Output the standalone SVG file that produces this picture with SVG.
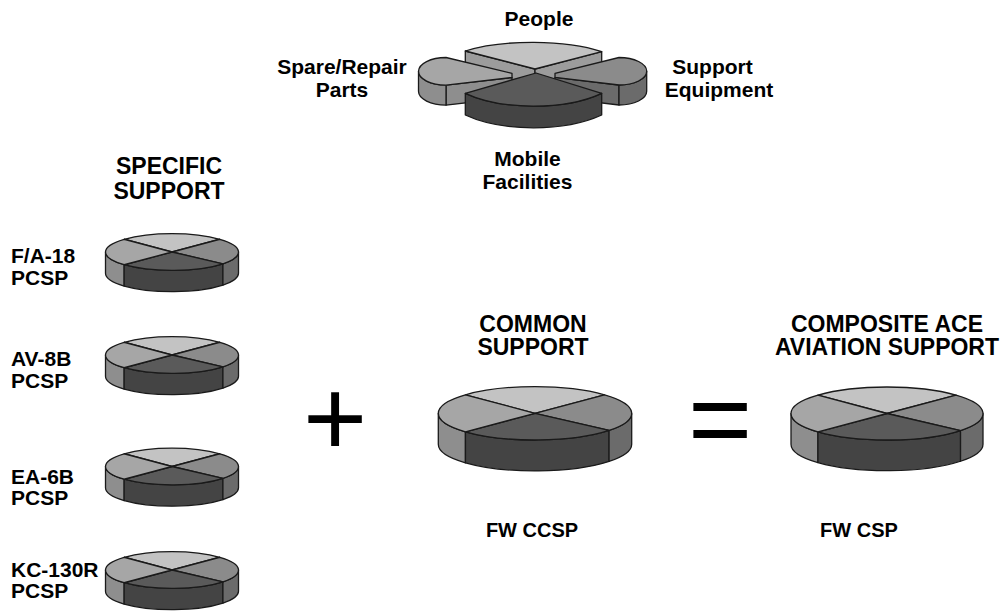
<svg xmlns="http://www.w3.org/2000/svg" xmlns:xlink="http://www.w3.org/1999/xlink" width="1006" height="611" viewBox="0 0 1006 611">
<style>
  .t { font-family: "Liberation Sans", Arial, sans-serif; font-weight: bold; fill: #000; }
  .lbl { font-size: 21px; }
  .hd { font-size: 23px; text-anchor: middle; }
  .ft { font-size: 20px; text-anchor: middle; }
  .mid { text-anchor: middle; }
  .s { stroke: #1a1a1a; stroke-width: 1.3; stroke-linejoin: round; vector-effect: non-scaling-stroke; }
  .c1 { fill: #c3c3c3; }
  .c2 { fill: #a6a6a6; }
  .c3 { fill: #8b8b8b; }
  .c4 { fill: #5a5a5a; }
  .c5 { fill: #444444; }
  .c6 { fill: #8e8e8e; }
  .c7 { fill: #6b6b6b; }
  .c8 { fill: #9c9c9c; }
  .op { font-family: "Liberation Sans", Arial, sans-serif; font-weight: normal; font-size: 110px; text-anchor: middle; fill: #000; }
</style>
<defs>
  <g id="pie">
    <path class="s c6" d="M-100,0 A100,27.6 0 0 0 -71.93,19.17 L-71.93,51.17 A100,27.6 0 0 1 -100,32 Z"/>
    <path class="s c5" d="M-71.93,19.17 A100,27.6 0 0 0 76.6,17.74 L76.6,49.74 A100,27.6 0 0 1 -71.93,51.17 Z"/>
    <path class="s c7" d="M76.6,17.74 A100,27.6 0 0 0 100,0 L100,32 A100,27.6 0 0 1 76.6,49.74 Z"/>
    <path class="s c1" d="M0,0 L-71.93,-19.17 A100,27.6 0 0 1 71.93,-19.17 Z"/>
    <path class="s c3" d="M0,0 L71.93,-19.17 A100,27.6 0 0 1 76.6,17.74 Z"/>
    <path class="s c4" d="M0,0 L76.6,17.74 A100,27.6 0 0 1 -71.93,19.17 Z"/>
    <path class="s c2" d="M0,0 L-71.93,19.17 A100,27.6 0 0 1 -71.93,-19.17 Z"/>
  </g>
</defs>
<rect width="1006" height="611" fill="#ffffff"/>

<g id="connectors"></g>

<!-- Exploded pie breakdown -->
<g id="breakdown">
  <g id="wedge-people">
    <path class="s c8" d="M465.3,51 L535,69 L535,89 L465.3,71 Z"/>
    <path class="s c8" d="M601.7,51.7 L535,69 L535,89 L601.7,71.7 Z"/>
    <path class="s c1" d="M535,69 L465.3,51 A93,28 0 0 1 601.7,51.7 Z"/>
    <text class="t lbl mid" x="539" y="26">People</text>
  </g>
  <g id="wedge-spare">
    <path class="s c6" d="M446,85.2 L512,77.5 L512,97.5 L446,105.2 Z"/>
    <path class="s c6" d="M418.5,71.35 A27.5,13.85 0 0 0 446,85.2 L446,105.2 A27.5,13.85 0 0 1 418.5,91.35 Z"/>
    <path class="s c2" d="M446,57.5 L512,73.3 L512,77.5 L446,85.2 A27.5,13.85 0 0 1 446,57.5 Z"/>
    <text class="t lbl mid" x="342" y="74">Spare/Repair</text>
    <text class="t lbl mid" x="342" y="97">Parts</text>
  </g>
  <g id="wedge-support">
    <path class="s c7" d="M555,77.3 L619,85 L619,105 L555,97.3 Z"/>
    <path class="s c7" d="M646.7,71.25 A27.7,13.75 0 0 1 619,85 L619,105 A27.7,13.75 0 0 0 646.7,91.25 Z"/>
    <path class="s c3" d="M555,73.3 L619,57.5 A27.7,13.75 0 0 1 619,85 L555,77.3 Z"/>
    <text class="t lbl mid" x="712.5" y="74">Support</text>
    <text class="t lbl mid" x="719" y="97">Equipment</text>
  </g>
  <g id="wedge-mobile">
    <path class="s c5" d="M465.3,93.3 A93,40 0 0 0 601.7,93.3 L601.7,115 A93,40 0 0 1 465.3,115 Z"/>
    <path class="s c4" d="M536,73 L465.3,93.3 A93,40 0 0 0 601.7,93.3 Z"/>
    <text class="t lbl mid" x="527.5" y="166">Mobile</text>
    <text class="t lbl mid" x="527.5" y="189">Facilities</text>
  </g>
</g>

<!-- Specific support -->
<g id="specific-title">
  <text class="t hd" x="169" y="174">SPECIFIC</text>
  <text class="t hd" x="169" y="199">SUPPORT</text>
</g>
<g id="pie-fa18">
  <use xlink:href="#pie" transform="translate(172,252) scale(0.665)"/>
  <text class="t lbl" x="11" y="263">F/A-18</text>
  <text class="t lbl" x="11" y="285">PCSP</text>
</g>
<g id="pie-av8b">
  <use xlink:href="#pie" transform="translate(172,355) scale(0.665)"/>
  <text class="t lbl" x="11" y="366">AV-8B</text>
  <text class="t lbl" x="11" y="388">PCSP</text>
</g>
<g id="pie-ea6b">
  <use xlink:href="#pie" transform="translate(172,466.5) scale(0.665)"/>
  <text class="t lbl" x="11" y="484">EA-6B</text>
  <text class="t lbl" x="11" y="505">PCSP</text>
</g>
<g id="pie-kc130r">
  <use xlink:href="#pie" transform="translate(172,570) scale(0.665)"/>
  <text class="t lbl" x="11" y="576.5">KC-130R</text>
  <text class="t lbl" x="11" y="598">PCSP</text>
</g>

<g id="plus"><text class="op" x="335" y="456">+</text></g>

<g id="common">
  <text class="t hd" x="533" y="331.5">COMMON</text>
  <text class="t hd" x="533" y="355">SUPPORT</text>
  <use xlink:href="#pie" transform="translate(535,413.3) scale(0.967)"/>
  <text class="t ft" x="532" y="536.5">FW CCSP</text>
</g>

<g id="equals"><text class="op" x="720" y="456">=</text></g>

<g id="composite">
  <text class="t hd" x="887" y="331.5">COMPOSITE ACE</text>
  <text class="t hd" x="887" y="355">AVIATION SUPPORT</text>
  <use xlink:href="#pie" transform="translate(887,413.5) scale(0.96)"/>
  <text class="t ft" x="859" y="536.5">FW CSP</text>
</g>
</svg>
